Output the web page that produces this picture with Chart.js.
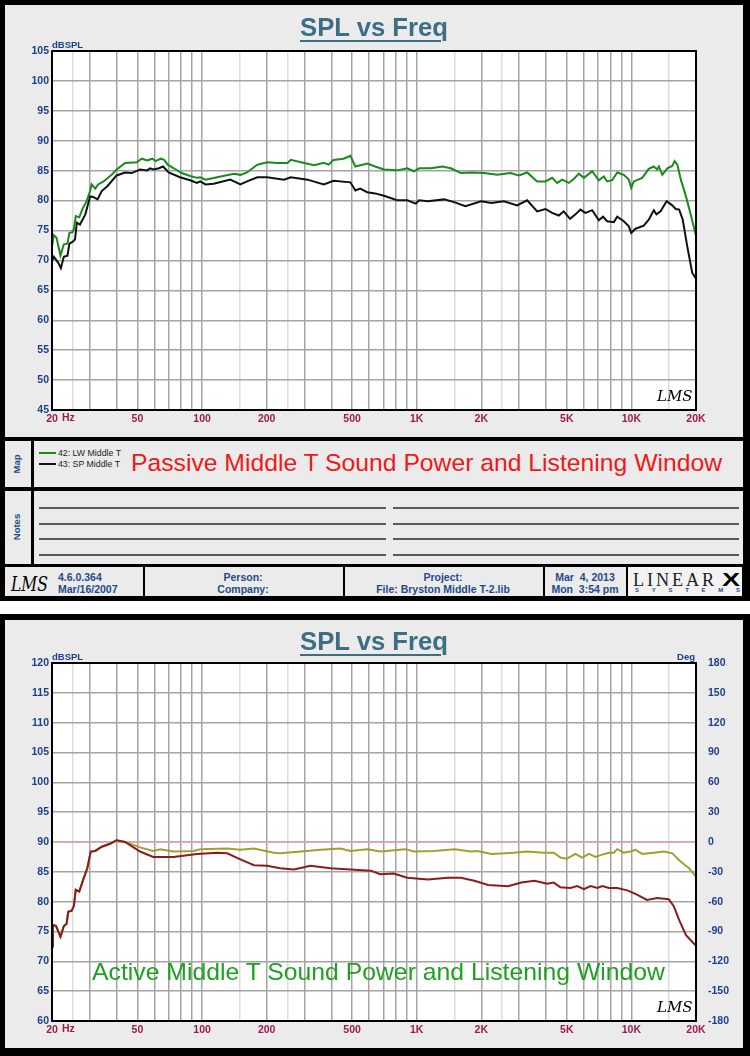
<!DOCTYPE html>
<html><head><meta charset="utf-8">
<script src="https://cdn.jsdelivr.net/npm/chart.js@4.4.1/dist/chart.umd.min.js"></script>
<style>
html,body{margin:0;padding:0;background:#fff;}
body{width:750px;height:1056px;overflow:hidden;position:relative;font-family:'Liberation Sans',Arial,sans-serif;}
.a{position:absolute;}
.k{background:#000;}
.p{background:#ebebeb;}
.nl{position:absolute;height:0;border-top:2px solid #5a5a5a;}
canvas{position:absolute;left:0;}
</style></head>
<body>
<!-- top frame -->
<div class="a k" style="left:0;top:0;width:750px;height:601px"></div>
<div class="a p" style="left:5px;top:5px;width:738px;height:432px"></div>
<div class="a p" style="left:5px;top:441px;width:26px;height:46px"></div>
<div class="a p" style="left:34px;top:441px;width:709px;height:46px"></div>
<div class="a p" style="left:5px;top:491px;width:26px;height:73px"></div>
<div class="a p" style="left:34px;top:491px;width:709px;height:73px"></div>
<div class="a p" style="left:5px;top:567px;width:138px;height:29px"></div>
<div class="a p" style="left:145px;top:567px;width:198px;height:29px"></div>
<div class="a p" style="left:345px;top:567px;width:198px;height:29px"></div>
<div class="a p" style="left:545px;top:567px;width:81px;height:29px"></div>
<div class="a" style="left:628px;top:567px;width:114px;height:29px;background:#f3f3f3"></div>
<div class="nl" style="left:39px;top:507px;width:347px"></div>
<div class="nl" style="left:393px;top:507px;width:346px"></div>
<div class="nl" style="left:39px;top:523px;width:347px"></div>
<div class="nl" style="left:393px;top:523px;width:346px"></div>
<div class="nl" style="left:39px;top:538px;width:347px"></div>
<div class="nl" style="left:393px;top:538px;width:346px"></div>
<div class="nl" style="left:39px;top:554px;width:347px"></div>
<div class="nl" style="left:393px;top:554px;width:346px"></div>
<div class="a" style="left:39px;top:452px;width:17px;height:2px;background:#1a8a1a"></div>
<div class="a" style="left:39px;top:463px;width:17px;height:2px;background:#111"></div>
<!-- bottom frame -->
<div class="a k" style="left:0;top:614px;width:750px;height:442px"></div>
<div class="a p" style="left:5px;top:620px;width:738px;height:428px"></div>

<canvas id="c1" width="750" height="437" style="top:0"></canvas>
<canvas id="c2" width="750" height="434" style="top:614px"></canvas>

<script>
// ---------- data ----------
const passiveLW = [[20,72.4],[20.4,74.2],[21,73.8],[21.9,70.8],[22.7,72.7],[23.6,72.8],[24.1,74.6],[24.9,74.7],[25.3,75.3],[25.8,77.4],[26.8,77.2],[27.8,78.7],[29,79.9],[30.1,81.6],[30.6,82.7],[31.8,82.0],[32.8,82.7],[34.8,83.2],[37.9,84.3],[40,85.2],[43.8,86.3],[49.6,86.4],[52.4,87.0],[55.5,86.7],[58.6,87.0],[60.8,86.6],[64.3,87.0],[66.6,86.8],[69.2,86.0],[73.9,85.4],[80.3,84.6],[88,84.1],[94.7,83.8],[98,83.9],[103.8,83.5],[117.6,83.9],[140.8,84.5],[150.8,84.3],[162,84.7],[181,86.0],[201,86.4],[224,86.3],[250,86.3],[259,86.8],[289,86.4],[333,85.9],[369,86.3],[389,86.0],[410,86.8],[456,87.0],[491,87.5],[518,85.7],[588,86.2],[640,85.7],[704,85.2],[810,85.05],[904,85.4],[970,84.9],[1026,85.4],[1163,85.4],[1318,85.7],[1441,85.4],[1605,84.6],[1784,84.7],[2058,84.6],[2372,84.3],[2737,84.6],[2990,84.2],[3270,84.7],[3640,83.2],[3980,83.2],[4275,83.8],[4510,82.95],[4760,83.5],[5110,82.95],[5390,83.6],[5690,84.5],[6010,83.8],[6570,84.9],[7050,83.4],[7440,84.05],[7710,83.2],[8140,83.4],[8590,84.7],[9220,84.3],[9730,83.5],[9980,82.1],[10270,83.2],[11230,83.8],[12050,85.3],[12720,85.7],[13180,85.2],[13430,85.7],[13930,84.3],[14700,85.4],[15500,85.8],[15900,86.6],[16380,86.0],[17000,83.5],[17960,80.7],[18990,77.4],[20000,74.1]];
const passiveSP = [[20,69.9],[20.4,70.6],[21.4,69.6],[22,68.7],[22.7,70.6],[23.6,70.8],[24.1,72.8],[24.9,73.1],[25.6,73.5],[26.1,76.3],[27,76.0],[28.6,77.7],[30.1,80.7],[31.1,80.6],[32.6,80.2],[34.1,81.6],[36.2,82.4],[40,84.2],[43.8,84.7],[47,84.6],[51.5,85.2],[55.5,85.05],[57.3,85.4],[59.3,85.2],[63,85.4],[65.8,85.7],[69.9,84.7],[78.9,83.9],[88,83.4],[94.7,82.95],[98,83.2],[103.8,82.7],[113.4,82.8],[135.4,83.5],[150.8,82.7],[162,83.2],[181,83.9],[201,83.9],[241,83.5],[259,83.9],[310,83.5],[369,82.7],[410,83.3],[491,83.05],[518,81.7],[545,82.0],[588,81.4],[640,81.2],[704,80.8],[810,80.05],[904,80.05],[990,79.5],[1026,80.05],[1125,79.9],[1343,80.2],[1505,79.7],[1686,79.05],[1995,79.9],[2226,79.6],[2547,79.9],[2936,79.2],[3270,80.05],[3640,78.2],[3980,78.6],[4275,77.95],[4590,77.5],[4840,78.2],[5180,76.95],[5490,77.7],[5790,78.5],[6110,77.95],[6570,78.4],[7050,76.7],[7380,77.3],[7710,76.55],[8290,76.4],[8590,77.3],[9220,76.55],[9730,75.7],[9980,74.6],[10450,75.3],[11420,75.8],[12050,76.8],[12720,78.4],[13080,77.7],[13680,78.2],[14590,79.9],[15500,79.2],[16090,78.6],[16700,78.5],[17350,76.8],[18200,72.4],[19200,67.95],[20000,66.95]];
const activeLW = [[20,72.5],[20.2,76.1],[20.9,75.9],[21.9,74.1],[22.7,75.9],[23.4,76.3],[23.8,78.3],[24.7,78.5],[25.3,79.3],[25.8,82.0],[26.8,81.7],[27.9,83.6],[29.2,85.6],[30.3,88.4],[31.8,88.5],[34.1,89.2],[37.3,89.7],[39.9,90.3],[43.8,90.0],[51.4,89.1],[59.2,88.5],[63.8,88.8],[73.7,88.4],[91.3,88.5],[98,88.8],[131,88.9],[150.8,88.7],[174.6,88.9],[216,88.2],[231,88.1],[289,88.4],[357,88.7],[441,88.9],[491,88.5],[588,88.8],[676,88.4],[887,88.8],[970,88.4],[1204,88.5],[1505,88.8],[1784,88.4],[1915,88.5],[2226,88.0],[2837,88.2],[3270,88.4],[3910,88.2],[4350,88.2],[4670,87.4],[5010,87.2],[5490,88.0],[5900,87.4],[6340,88.0],[6810,87.5],[7190,87.8],[7860,88.2],[8290,88.2],[8590,88.8],[9220,88.2],[9900,88.4],[10450,88.7],[11230,88.0],[12720,88.2],[14180,88.4],[15500,88.1],[17000,86.7],[18560,85.6],[20000,84.2]];
const activeSP = [[20,72.5],[20.2,76.1],[20.9,75.9],[21.9,74.1],[22.7,75.9],[23.4,76.3],[23.8,78.3],[24.7,78.5],[25.3,79.3],[25.8,82.0],[26.8,81.7],[27.9,83.6],[29.2,85.6],[30.3,88.4],[31.8,88.5],[34.1,89.2],[37.3,89.7],[39.9,90.3],[43.8,90.0],[51.4,88.4],[59.2,87.5],[73.7,87.5],[94.7,88.0],[117.6,88.2],[131,88.1],[150.8,87.1],[174.6,86.1],[201,86.0],[231,85.6],[268,85.4],[320,86.0],[396,85.6],[491,85.4],[611,85.2],[676,84.6],[781,84.7],[904,84.0],[1125,83.7],[1397,84.0],[1605,84.0],[1856,83.5],[2150,82.8],[2664,82.6],[3070,83.2],[3540,83.5],[4050,83.0],[4350,83.2],[4670,82.4],[5200,82.3],[5590,82.6],[6010,82.1],[6460,82.6],[6940,82.3],[7320,82.6],[7860,82.3],[8590,82.3],[9560,81.9],[10450,81.3],[11820,80.3],[13180,80.6],[14930,80.4],[15780,79.2],[16700,76.9],[17960,74.4],[20000,72.6]];
const phaseRef = [[20,0],[20000,0]];

const xGridValues = [20,25,30,40,50,60,70,80,90,100,150,200,250,300,400,500,600,700,800,900,1000,1500,2000,2500,3000,4000,5000,6000,7000,8000,9000,10000,15000,20000];
const xMinorValues = [25,150,250,1500,2500,15000];
const xLabelValues = [20,50,100,200,500,1000,2000,5000,10000,20000];
const xLabelTexts = ['20','50','100','200','500','1K','2K','5K','10K','20K'];

// ---------- helpers ----------
const SANS = "'Liberation Sans',Arial,sans-serif";
const NARROW = "'Liberation Sans Narrow','Liberation Sans',Arial,sans-serif";
function txt(str,o){
  const s=document.createElement('span');
  s.textContent=str;
  const size=o.size||10;
  s.style.cssText='position:absolute;white-space:nowrap;line-height:1;transform-origin:0 0;font-size:'+size+'px;font-family:'+(o.family||SANS)+';font-weight:'+(o.weight||'normal')+';font-style:'+(o.style||'normal')+';color:'+(o.color||'#000')+';'+(o.extra||'');
  document.body.appendChild(s);
  const w0=s.getBoundingClientRect().width;
  const sx=o.width? o.width/w0 : 1;
  const w=w0*sx;
  let left=o.x;
  if(o.align==='center') left=o.x-w/2; else if(o.align==='right') left=o.x-w;
  s.style.left=left+'px';
  s.style.top=(o.base-0.8465*size)+'px';
  if(sx!==1) s.style.transform='scaleX('+sx+')';
  return s;
}
function vtxt(str,cx,cy,size,color){
  const s=document.createElement('span');
  s.textContent=str;
  s.style.cssText='position:absolute;white-space:nowrap;line-height:1;font-size:'+size+'px;font-family:'+SANS+';font-weight:bold;color:'+color+';left:'+cx+'px;top:'+cy+'px;transform:translate(-50%,-50%) rotate(-90deg);';
  document.body.appendChild(s);
}

const isMinorX = v => xMinorValues.some(m => Math.abs(m - v) < 1e-6 * m);
const gridX = {
  color: c => (c.tick && isMinorX(c.tick.value)) ? '#dcdcdc' : '#a4a4a4',
  lineWidth: 1.5, drawTicks: false
};
const gridY = {
  color: c => (c.tick && Math.abs(c.tick.value % 5) > 1e-6) ? '#dcdcdc' : '#a4a4a4',
  lineWidth: 1.5, drawTicks: false
};
const tickFont = {family: NARROW, size: 10.5, weight: 'bold'};

function xScale(h){
  return {
    type:'logarithmic', min:20, max:20000,
    afterBuildTicks: s => { s.ticks = xGridValues.map(v => ({value:v})); },
    afterFit: s => { s.height = h; },
    ticks: {autoSkip:false, maxRotation:0, minRotation:0, padding:3, color:'#9e1a4a', font:tickFont,
      callback: v => { const i = xLabelValues.findIndex(m => Math.abs(m - v) < 1e-6*m); return i >= 0 ? xLabelTexts[i] : ''; }},
    grid: gridX, border:{display:false}
  };
}
function yScale(min,max,w){
  return {
    type:'linear', min:min, max:max,
    afterFit: s => { s.width = w; },
    ticks: {stepSize:2.5, padding:3, color:'#1c3f8c', font:tickFont,
      callback: v => (Math.abs(v % 5) < 1e-6 ? String(v) : '')},
    grid: gridY, border:{display:false}
  };
}

const framePlugin = {
  id:'frame',
  beforeDraw(chart){
    const {ctx, chartArea:a} = chart;
    ctx.save(); ctx.fillStyle='#fff'; ctx.fillRect(a.left,a.top,a.width,a.height); ctx.restore();
  },
  afterDraw(chart){
    const {ctx, chartArea:a} = chart;
    const xs = chart.scales.x;
    ctx.save();
    ctx.strokeStyle='#000'; ctx.lineWidth=2;
    ctx.strokeRect(a.left, a.top, a.width, a.height);
    ctx.font = 'bold 10.5px ' + NARROW;
    ctx.fillStyle = '#9e1a4a'; ctx.textBaseline='top'; ctx.textAlign='left';
    ctx.fillText('Hz', xs.getPixelForValue(20) + 10, xs.top + 3);
    ctx.font = 'bold 9.5px ' + NARROW;
    ctx.fillStyle = '#1c3f8c'; ctx.textBaseline='alphabetic';
    ctx.fillText('dBSPL', a.left, a.top - 3.5);
    if (chart.options.plugins.frame && chart.options.plugins.frame.deg) {
      ctx.textAlign='right';
      ctx.fillText('Deg', a.right - 1, a.top - 3.5);
    }
    ctx.fillStyle='#000'; ctx.textAlign='left';
    ctx.font = "italic 15px 'DejaVu Serif', serif";
    ctx.fillText('LMS', a.right - 39, a.bottom - 9);
    ctx.restore();
  }
};

Chart.defaults.font.family = SANS;
const toPts = arr => arr.map(p => ({x:p[0], y:p[1]}));

new Chart(document.getElementById('c1'), {
  type:'line',
  data:{datasets:[
    {label:'42: LW Middle T', data:toPts(passiveLW), borderColor:'#1a8a1a', borderWidth:2, pointRadius:0, tension:0},
    {label:'43: SP Middle T', data:toPts(passiveSP), borderColor:'#111111', borderWidth:2, pointRadius:0, tension:0}
  ]},
  options:{
    responsive:false, animation:false, devicePixelRatio:1,
    layout:{padding:{left:0, top:51, right:54, bottom:0}},
    plugins:{legend:{display:false}, tooltip:{enabled:false}, frame:{deg:false}},
    scales:{ x:xScale(27), y:yScale(45,105,52) }
  },
  plugins:[framePlugin]
});

const y2 = {
  type:'linear', position:'right', min:-180, max:180,
  afterFit: s => { s.width = 54; },
  ticks:{stepSize:30, padding:4, color:'#1c3f8c', font:tickFont},
  grid:{display:false}, border:{display:false}
};
new Chart(document.getElementById('c2'), {
  type:'line',
  data:{datasets:[
    {label:'SP', data:toPts(activeSP), borderColor:'#8c1c1c', borderWidth:2, pointRadius:0, tension:0, yAxisID:'y'},
    {label:'LW', data:toPts(activeLW), borderColor:'#a0a030', borderWidth:2, pointRadius:0, tension:0, yAxisID:'y'},
    {label:'Phase', data:toPts(phaseRef), borderColor:'#e6a6a6', borderWidth:1.5, pointRadius:0, yAxisID:'y2'}
  ]},
  options:{
    responsive:false, animation:false, devicePixelRatio:1,
    layout:{padding:{left:0, top:49, right:0, bottom:0}},
    plugins:{legend:{display:false}, tooltip:{enabled:false}, frame:{deg:true}},
    scales:{ x:xScale(27), y:yScale(60,120,52), y2:y2 }
  },
  plugins:[framePlugin]
});

// ---------- texts ----------
const TITLE = '#3d6e85', NAVY = '#1f4a8a';
const ul = 'text-decoration:underline;text-decoration-thickness:2px;text-underline-offset:4px;';
txt('SPL vs Freq',{x:374, base:36.2, size:25, weight:'bold', color:TITLE, align:'center', width:148, extra:ul});
txt('SPL vs Freq',{x:374, base:649.7, size:25, weight:'bold', color:TITLE, align:'center', width:148, extra:ul});

txt('42: LW Middle T',{x:58, base:456.5, size:9.5, color:'#222', width:63});
txt('43: SP Middle T',{x:58, base:467.5, size:9.5, color:'#222', width:62});
txt('Passive Middle T Sound Power and Listening Window',{x:131, base:471.7, size:24.5, color:'#f01818', width:591});
txt('Active Middle T Sound Power and Listening Window',{x:92, base:980, size:24, color:'#1fa01f', width:573});

vtxt('Map',17,464,9.5,NAVY);
vtxt('Notes',17,527,9.5,NAVY);

// footer
const FS = 10.5;
txt('LMS',{x:11, base:591, size:20, style:'italic', family:"'DejaVu Serif',serif", color:'#000', width:37});
txt('4.6.0.364',{x:58, base:581, size:FS, weight:'bold', color:NAVY, family:NARROW});
txt('Mar/16/2007',{x:58, base:593, size:FS, weight:'bold', color:NAVY, family:NARROW});
txt('Person:',{x:243, base:581, size:FS, weight:'bold', color:NAVY, align:'center', family:NARROW});
txt('Company:',{x:243, base:593, size:FS, weight:'bold', color:NAVY, align:'center', family:NARROW});
txt('Project:',{x:443, base:581, size:FS, weight:'bold', color:NAVY, align:'center', family:NARROW});
txt('File: Bryston Middle T-2.lib',{x:443, base:593, size:FS, weight:'bold', color:NAVY, align:'center', family:NARROW});
txt('Mar  4, 2013',{x:585, base:581, size:FS, weight:'bold', color:NAVY, align:'center', family:NARROW, extra:'white-space:pre;'});
txt('Mon  3:54 pm',{x:585, base:593, size:FS, weight:'bold', color:NAVY, align:'center', family:NARROW, extra:'white-space:pre;'});
txt('LINEAR',{x:633, base:586, size:19, family:"'Liberation Serif',serif", color:'#222', width:84, extra:'letter-spacing:3px;'});
txt('X',{x:722, base:586, size:18, weight:'bold', color:'#000', width:18});
(function(){
  const d=document.createElement('div');
  d.style.cssText='position:absolute;left:635px;top:587px;width:105px;display:flex;justify-content:space-between;font:bold 6px '+SANS+';color:'+NAVY+';line-height:1;';
  'SYSTEMS'.split('').forEach(ch=>{const s=document.createElement('span');s.textContent=ch;d.appendChild(s);});
  document.body.appendChild(d);
})();
</script>
</body></html>
